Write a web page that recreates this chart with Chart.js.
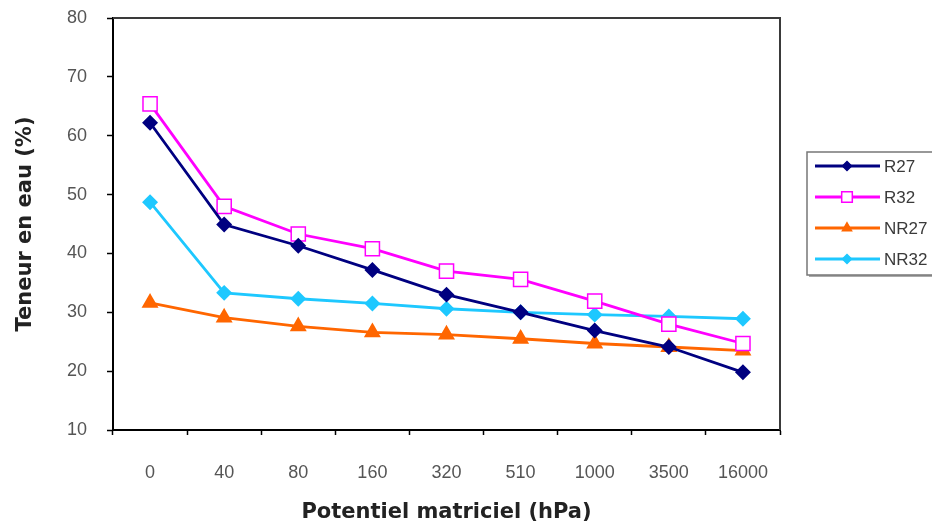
<!DOCTYPE html>
<html>
<head>
<meta charset="utf-8">
<script src="https://cdn.jsdelivr.net/npm/chart.js@4/dist/chart.umd.min.js"></script>
<style>
  html, body { margin: 0; padding: 0; background: #fff; }
  #wrap { width: 932px; height: 527px; }
</style>
</head>
<body>
<div id="wrap"><canvas id="lineChart" width="932" height="527"></canvas></div>
<script>
// valeurs
var potentiels = ['0', '40', '80', '160', '320', '510', '1000', '3500', '16000'];
var r27  = [62.2, 44.9, 41.3, 37.2, 33.0, 30.0, 26.9, 24.1, 19.8];
var r32  = [65.4, 48.0, 43.3, 40.8, 37.0, 35.6, 31.9, 28.0, 24.7];
var nr27 = [31.6, 29.1, 27.6, 26.6, 26.2, 25.5, 24.7, 24.1, 23.5];
var nr32 = [48.7, 33.3, 32.3, 31.5, 30.6, 30.0, 29.6, 29.3, 28.9];
var yTicks = [10, 20, 30, 40, 50, 60, 70, 80];

var tickFont = '"Liberation Sans", Arial, sans-serif';
var titleFont = '"DejaVu Sans", Verdana, sans-serif';

// cadre de la zone de tracé
var framePlugin = {
    id: 'frame',
    beforeDatasetsDraw: function(chart) {
        var a = chart.chartArea, ctx = chart.ctx;
        ctx.save();
        ctx.strokeStyle = '#3a3a3a';
        ctx.lineWidth = 2;
        ctx.beginPath();
        ctx.moveTo(a.left, a.top);
        ctx.lineTo(a.right, a.top);
        ctx.lineTo(a.right, a.bottom);
        ctx.stroke();
        ctx.restore();
    }
};

// légende façon Excel, à droite
var legendPlugin = {
    id: 'excelLegend',
    afterDraw: function(chart) {
        var ctx = chart.ctx;
        var x0 = 807, y0 = 152, w = 140, h = 123;
        ctx.save();
        ctx.fillStyle = '#aaa';
        ctx.fillRect(x0 + 2, y0 + h, w, 2);
        ctx.strokeStyle = '#777';
        ctx.lineWidth = 1.5;
        ctx.fillStyle = '#fff';
        ctx.fillRect(x0, y0, w, h);
        ctx.strokeRect(x0, y0, w, h);
        chart.data.datasets.forEach(function(ds, i) {
            var y = 166 + i * 31;
            ctx.strokeStyle = ds.borderColor;
            ctx.lineWidth = 3;
            ctx.beginPath();
            ctx.moveTo(815, y);
            ctx.lineTo(880, y);
            ctx.stroke();
            ctx.fillStyle = ds.pointBackgroundColor;
            ctx.strokeStyle = ds.pointBorderColor;
            ctx.lineWidth = 1.5;
            ctx.beginPath();
            var r = ds.pointRadius * 0.75;
            if (ds.pointStyle === 'rect') {
                var s = r * Math.SQRT1_2;
                ctx.rect(847 - s, y - s, 2 * s, 2 * s);
            } else if (ds.pointStyle === 'triangle') {
                ctx.moveTo(847, y - r);
                ctx.lineTo(847 + r * 0.866, y + r / 2);
                ctx.lineTo(847 - r * 0.866, y + r / 2);
                ctx.closePath();
            } else {
                ctx.moveTo(847, y - r);
                ctx.lineTo(847 + r, y);
                ctx.lineTo(847, y + r);
                ctx.lineTo(847 - r, y);
                ctx.closePath();
            }
            ctx.fill();
            ctx.stroke();
            ctx.fillStyle = '#3a3a3a';
            ctx.font = '17px ' + tickFont;
            ctx.textBaseline = 'middle';
            ctx.fillText(ds.label, 884, y + 1);
        });
        ctx.restore();
    }
};

var ctxL = document.getElementById('lineChart').getContext('2d');
var myLineChart = new Chart(ctxL, {
    type: 'line',
    data: {
        labels: potentiels,
        datasets: [{
            label: 'R27',
            data: r27,
            borderColor: '#000080',
            backgroundColor: '#000080',
            pointBackgroundColor: '#000080',
            pointBorderColor: '#000080',
            pointStyle: 'rectRot',
            pointRadius: 6,
            borderWidth: 2.8
        },
        {
            label: 'R32',
            data: r32,
            borderColor: '#ff00ff',
            backgroundColor: '#ffffff',
            pointBackgroundColor: '#ffffff',
            pointBorderColor: '#ff00ff',
            pointStyle: 'rect',
            pointRadius: 10,
            pointBorderWidth: 1.5,
            borderWidth: 2.8
        },
        {
            label: 'NR27',
            data: nr27,
            borderColor: '#ff6600',
            backgroundColor: '#ff6600',
            pointBackgroundColor: '#ff6600',
            pointBorderColor: '#ff6600',
            pointStyle: 'triangle',
            pointRadius: 7,
            borderWidth: 2.8
        },
        {
            label: 'NR32',
            data: nr32,
            borderColor: '#1ec8ff',
            backgroundColor: '#1ec8ff',
            pointBackgroundColor: '#1ec8ff',
            pointBorderColor: '#1ec8ff',
            pointStyle: 'rectRot',
            pointRadius: 6,
            borderWidth: 2.8
        }]
    },
    options: {
        responsive: false,
        animation: false,
        events: [],
        layout: { padding: { top: 18, right: 152, left: 0, bottom: 0 } },
        plugins: {
            legend: { display: false },
            tooltip: { enabled: false }
        },
        scales: {
            x: {
                offset: true,
                grid: {
                    offset: true,
                    drawOnChartArea: false,
                    drawTicks: true,
                    tickLength: 5,
                    tickColor: '#000',
                    tickWidth: 1.5
                },
                border: { color: '#000', width: 2 },
                ticks: {
                    padding: 27,
                    color: '#555',
                    font: { family: tickFont, size: 18 },
                    maxRotation: 0,
                    autoSkip: false
                },
                title: {
                    display: true,
                    text: 'Potentiel matriciel (hPa)',
                    color: '#222',
                    font: { family: titleFont, size: 21, weight: 'bold' },
                    padding: { top: 0, bottom: 2 }
                },
                afterFit: function(scale) {
                    scale.height = 97;
                    scale.paddingLeft = 0;
                    scale.paddingRight = 0;
                }
            },
            y: {
                min: 10,
                max: 80,
                afterBuildTicks: function(scale) {
                    scale.ticks = yTicks.map(function(v) { return { value: v }; });
                },
                grid: {
                    drawOnChartArea: false,
                    drawTicks: true,
                    tickLength: 6,
                    tickColor: '#000',
                    tickWidth: 1.5
                },
                border: { color: '#000', width: 2 },
                ticks: {
                    padding: 20,
                    color: '#555',
                    font: { family: tickFont, size: 18 }
                },
                title: {
                    display: true,
                    text: 'Teneur en eau (%)',
                    color: '#222',
                    font: { family: titleFont, size: 21, weight: 'bold' },
                    padding: { top: 13, bottom: 0 }
                },
                afterFit: function(scale) {
                    scale.width = 113;
                    scale.paddingTop = 0;
                    scale.paddingBottom = 0;
                }
            }
        }
    },
    plugins: [framePlugin, legendPlugin]
});
</script>
</body>
</html>
